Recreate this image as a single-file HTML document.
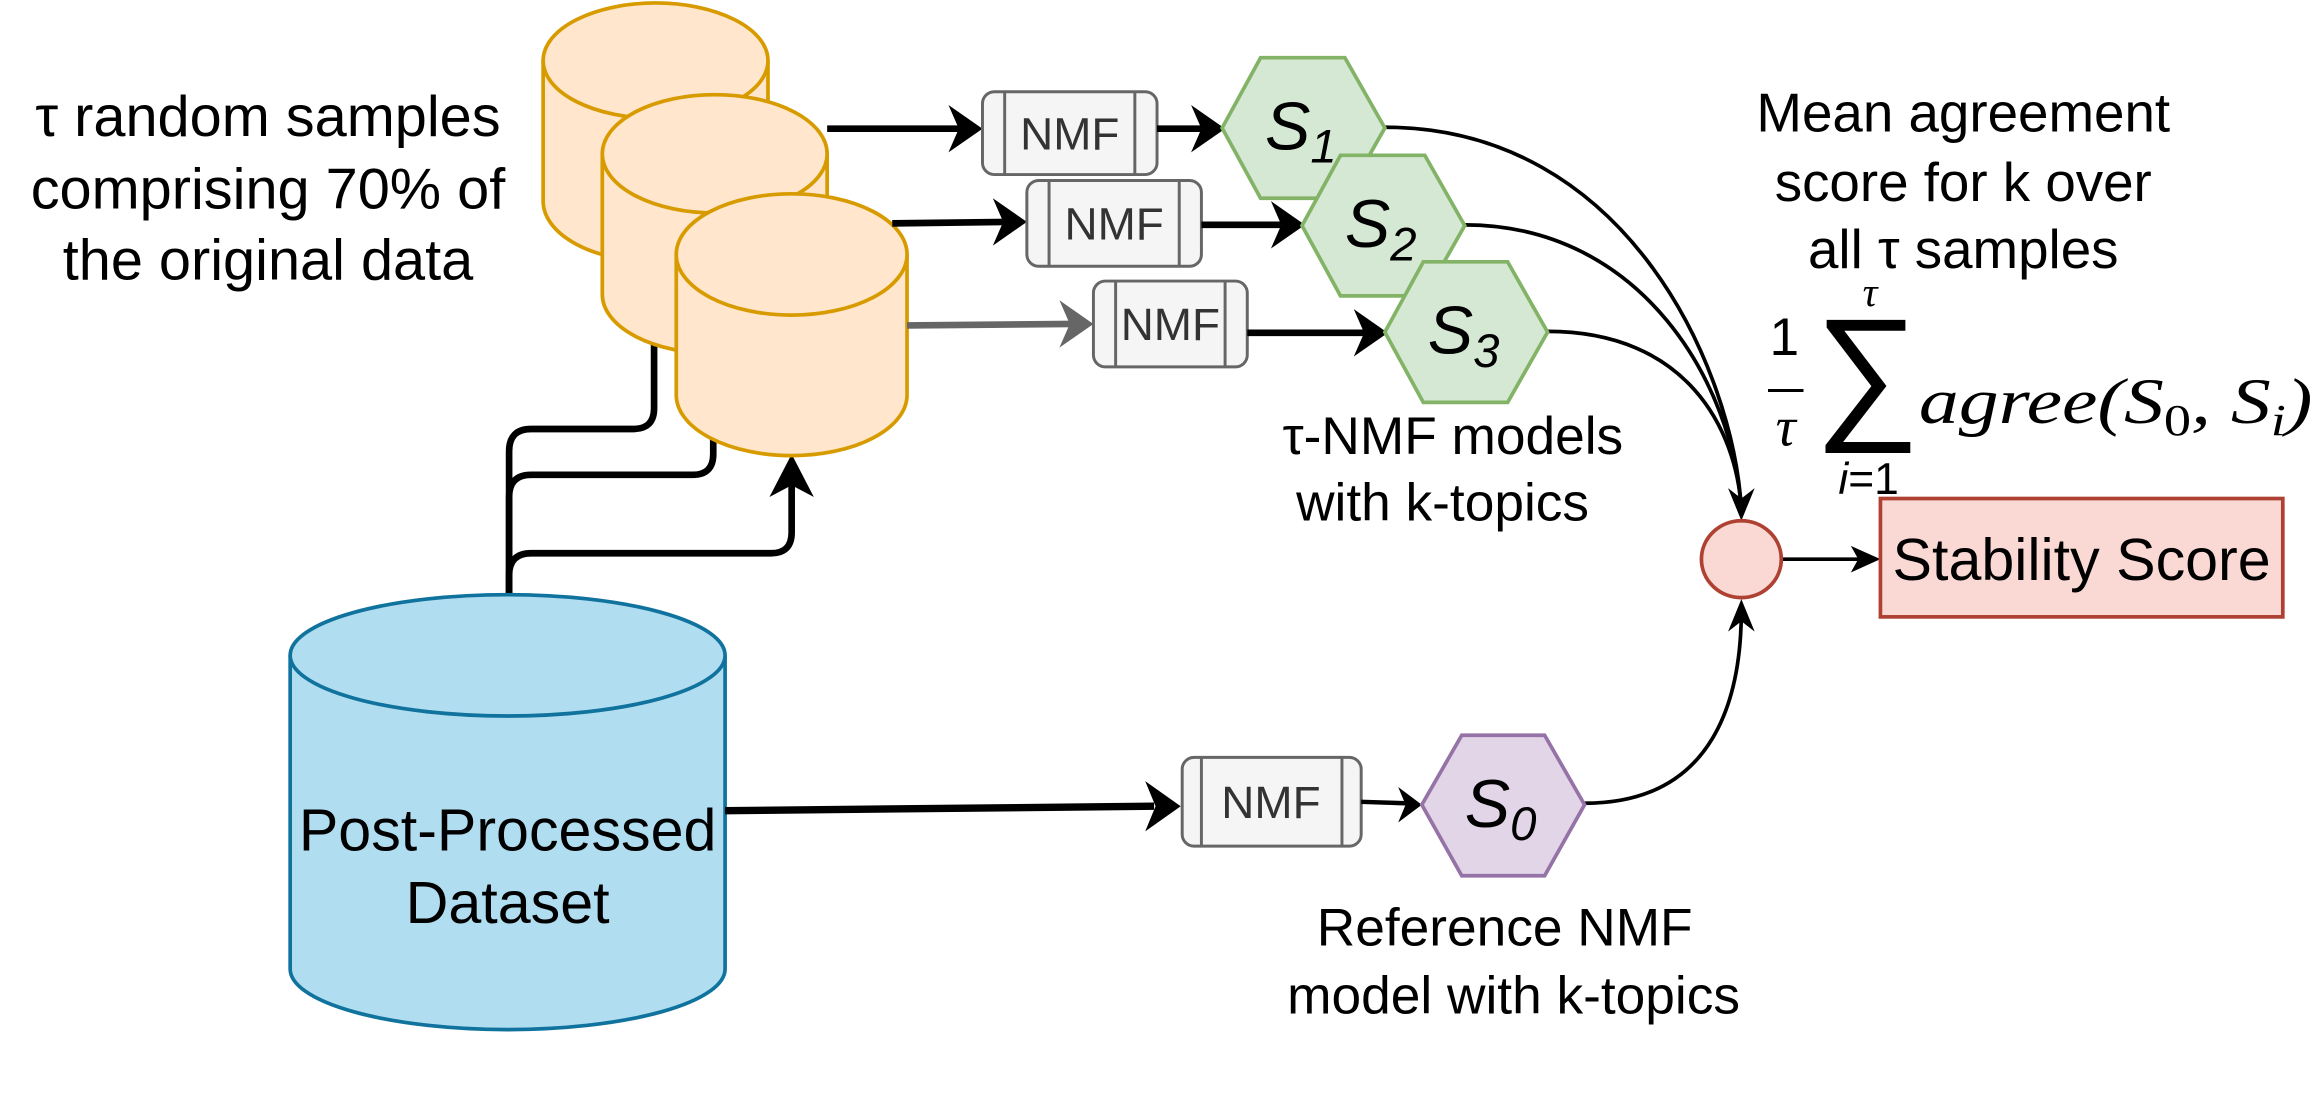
<!DOCTYPE html>
<html><head><meta charset="utf-8"><style>
html,body{margin:0;padding:0;background:#fff;}
svg{display:block;}
text{font-family:"Liberation Sans",Arial,sans-serif;}
.m{font-family:"Liberation Serif","DejaVu Serif",serif;font-style:italic;}
</style></head><body>
<svg width="2320" height="1108" viewBox="0 0 1568 749" xmlns="http://www.w3.org/2000/svg">
<rect width="1568" height="749" fill="#fff"/>

<!-- left text -->
<g font-size="39" text-anchor="middle" fill="#000">
<text x="181" y="92">τ random samples</text>
<text x="181" y="141">comprising 70% of</text>
<text x="181" y="189">the original data</text>
</g>

<!-- connectors from blue cylinder -->
<g fill="none" stroke="#000" stroke-width="4.5">
<path d="M344 402 V305 Q344 290 359 290 H428 Q442 290 442 276 V232"/>
<path d="M344 402 V336 Q344 321 359 321 H468 Q482 321 482 307 V296"/>
<path d="M344 402 V389 Q344 374 359 374 H521 Q535 374 535 360 V325"/>
</g>
<path d="M535 307 L520 336 L535 328 L550 336 Z" fill="#000"/>

<!-- orange cylinders -->
<g fill="#ffe6cc" stroke="#d79b00" stroke-width="2.5">
<path d="M367 41 V136 A76 41 0 0 0 519 136 V41"/>
<ellipse cx="443" cy="41" rx="76" ry="39"/>
<path d="M407 104 V199 A76 40 0 0 0 559 199 V104"/>
<ellipse cx="483" cy="104" rx="76" ry="40"/>
<path d="M457 172 V267 A78 41 0 0 0 613 267 V172"/>
<ellipse cx="535" cy="172" rx="78" ry="41"/>
</g>

<!-- arrows to NMF boxes -->
<g stroke-width="4.5" fill="none">
<line x1="559" y1="87" x2="650" y2="87" stroke="#000"/>
<line x1="603" y1="151" x2="680" y2="150" stroke="#000"/>
<line x1="613" y1="220" x2="725" y2="219" stroke="#666"/>
</g>
<path d="M664 87 L641 71 L648 87 L641 103 Z" fill="#000"/>
<path d="M694 150 L671 134 L678 150 L671 166 Z" fill="#000"/>
<path d="M739 219 L716 203 L723 219 L716 235 Z" fill="#666"/>

<!-- NMF boxes -->
<g fill="#f5f5f5" stroke="#666" stroke-width="2">
<rect x="664" y="62" width="118" height="56" rx="8"/>
<line x1="679" y1="62" x2="679" y2="118"/><line x1="767" y1="62" x2="767" y2="118"/>
<rect x="694" y="122" width="118" height="58" rx="8"/>
<line x1="709" y1="122" x2="709" y2="180"/><line x1="797" y1="122" x2="797" y2="180"/>
<rect x="739" y="190" width="104" height="58" rx="8"/>
<line x1="754" y1="190" x2="754" y2="248"/><line x1="828" y1="190" x2="828" y2="248"/>
<rect x="799" y="512" width="121" height="60" rx="8"/>
<line x1="812" y1="512" x2="812" y2="572"/><line x1="907" y1="512" x2="907" y2="572"/>
</g>
<g font-size="31" text-anchor="middle" fill="#333">
<text x="723" y="101">NMF</text>
<text x="753" y="162">NMF</text>
<text x="791" y="230">NMF</text>
<text x="859" y="553">NMF</text>
</g>

<!-- arrows NMF -> hex -->
<g stroke="#000" stroke-width="4.5">
<line x1="782" y1="87" x2="812" y2="87"/>
<line x1="812" y1="152" x2="866" y2="152"/>
<line x1="843" y1="225" x2="922" y2="225"/>
<line x1="920" y1="542" x2="950" y2="543" stroke-width="3"/>
</g>
<path d="M828 87 L805 71 L812 87 L805 103 Z" fill="#000"/>
<path d="M882 152 L859 136 L866 152 L859 168 Z" fill="#000"/>
<path d="M938 225 L915 209 L922 225 L915 241 Z" fill="#000"/>
<path d="M961 544 L945 532 L950 544 L945 556 Z" fill="#000"/>

<!-- curves to circle -->
<g fill="none" stroke="#000" stroke-width="2.5">
<path d="M936 86 C1100 86 1172 250 1177 345"/>
<path d="M990 152 C1110 152 1172 260 1177 345"/>
<path d="M1046 224 C1140 224 1174 290 1177 345"/>
<path d="M1071 543 C1160 543 1177 470 1177 412"/>
<line x1="1204" y1="378" x2="1262" y2="378"/>
</g>
<path d="M1177 352 L1168 330 L1177 337 L1186 330 Z" fill="#000"/>
<path d="M1177 405 L1168 427 L1177 420 L1186 427 Z" fill="#000"/>
<path d="M1271 378 L1251 369 L1256 378 L1251 387 Z" fill="#000"/>

<!-- hexagons -->
<g stroke-width="2.5">
<polygon points="826,86.5 852,39 909,39 936,86.5 909,134 852,134" fill="#d5e8d4" stroke="#82b366"/>
<polygon points="880,152.5 906,105 963,105 990,152.5 963,200 906,200" fill="#d5e8d4" stroke="#82b366"/>
<polygon points="936,224.5 962,177 1019,177 1046,224.5 1019,272 962,272" fill="#d5e8d4" stroke="#82b366"/>
<polygon points="961,544 988,497 1044,497 1071,544 1044,592 988,592" fill="#e1d5e7" stroke="#9673a6"/>
</g>
<g font-style="italic" fill="#000">
<text x="855" y="101" font-size="46">S<tspan font-size="32" dy="9">1</tspan></text>
<text x="909" y="167" font-size="46">S<tspan font-size="32" dy="9">2</tspan></text>
<text x="965" y="239" font-size="46">S<tspan font-size="32" dy="9">3</tspan></text>
<text x="990" y="559" font-size="46">S<tspan font-size="32" dy="9">0</tspan></text>
</g>

<!-- circle and stability -->
<ellipse cx="1177" cy="378" rx="27" ry="26" fill="#fad9d5" stroke="#ae4132" stroke-width="2.5"/>
<rect x="1271" y="337" width="272" height="80" fill="#fad9d5" stroke="#ae4132" stroke-width="2.5"/>
<text x="1407" y="392" font-size="40" text-anchor="middle">Stability Score</text>

<!-- blue cylinder -->
<g fill="#b1ddf0" stroke="#10739e" stroke-width="2.5">
<path d="M196 443 V655 A147 41 0 0 0 490 655 V443"/>
<ellipse cx="343" cy="443" rx="147" ry="41"/>
</g>
<line x1="490" y1="548" x2="780" y2="545" stroke="#000" stroke-width="5"/>
<path d="M798 545 L774 528 L781 545 L774 562 Z" fill="#000"/>
<g font-size="40" text-anchor="middle" fill="#000">
<text x="343" y="575">Post-Processed</text>
<text x="343" y="624">Dataset</text>
</g>

<!-- labels -->
<g font-size="37" text-anchor="middle" fill="#000">
<text x="1327" y="89">Mean agreement</text>
<text x="1327" y="136">score for k over</text>
<text x="1327" y="181">all τ samples</text>
</g>
<g font-size="36" text-anchor="middle" fill="#000">
<text x="982" y="307">τ-NMF models</text>
<text x="975" y="352">with k-topics</text>
<text x="1017" y="639">Reference NMF</text>
<text x="1023" y="685">model with k-topics</text>
</g>

<!-- formula -->
<g fill="#000">
<text x="1206" y="240" font-size="36" text-anchor="middle" font-family="Liberation Serif,serif">1</text>
<line x1="1195" y1="264" x2="1219" y2="264" stroke="#000" stroke-width="2"/>
<text class="m" x="1207" y="301" font-size="38" text-anchor="middle">τ</text>
<text x="1262" y="285" font-size="100" text-anchor="middle" font-family="Liberation Serif,serif">∑</text>
<text class="m" x="1264" y="207" font-size="28" text-anchor="middle">τ</text>
<text x="1263" y="334" font-size="30" text-anchor="middle" font-family="Liberation Serif,serif"><tspan font-style="italic">i</tspan>=1</text>
<text class="m" x="1297" y="286" font-size="44" textLength="266" lengthAdjust="spacingAndGlyphs">agree(S<tspan font-style="normal" font-size="30" dy="8">0</tspan><tspan dy="-8">, S</tspan><tspan font-size="30" dy="8">i</tspan><tspan dy="-8">)</tspan></text>
</g>
</svg>
</body></html>
